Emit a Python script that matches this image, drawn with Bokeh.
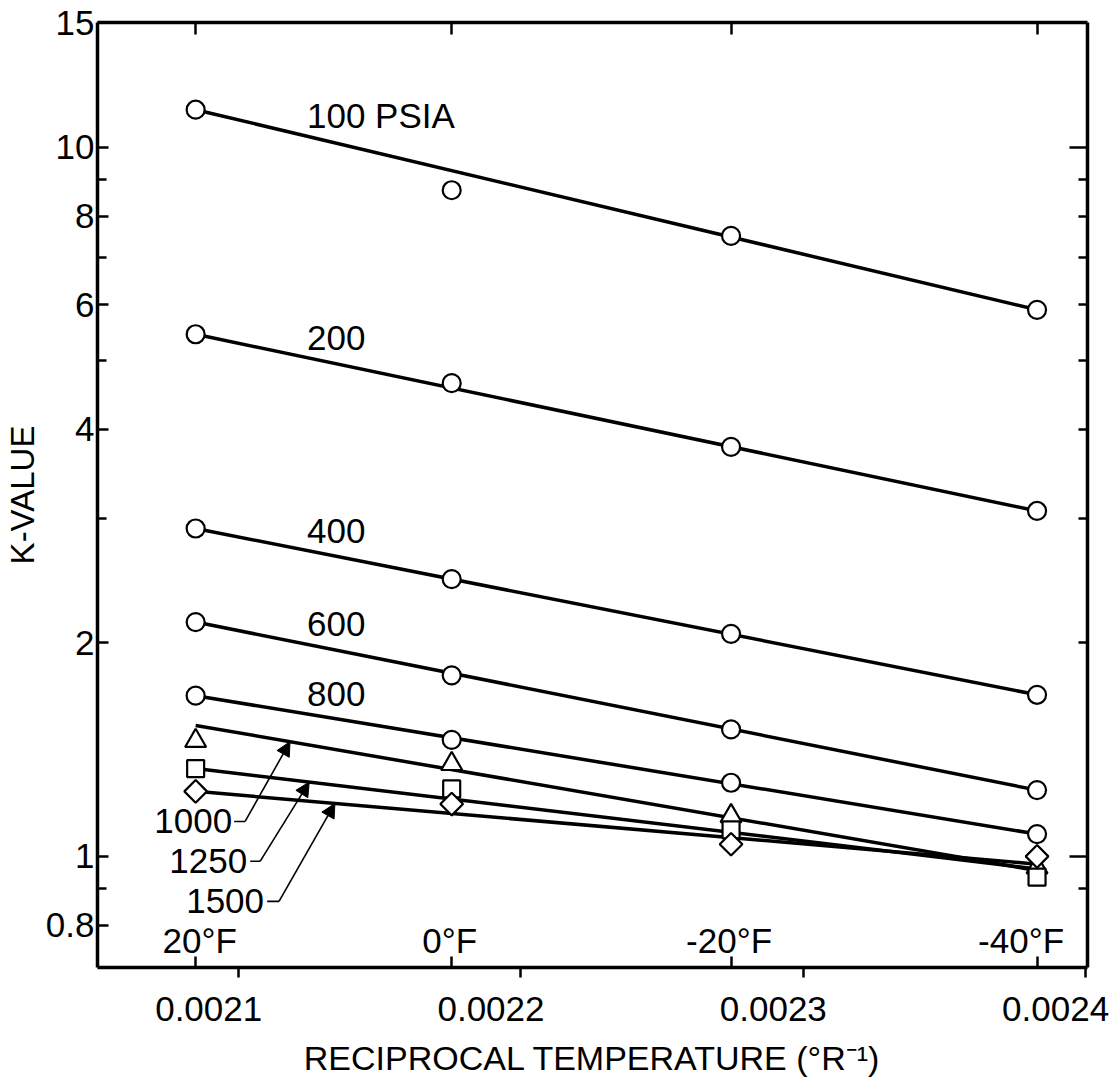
import numpy as np
from bokeh.plotting import figure
from bokeh.models import (Range1d, LinearAxis, LogAxis, FixedTicker, ColumnDataSource,
                          LabelSet, Arrow, NormalHead, CustomJSTickFormatter)
from bokeh.core.properties import value
from bokeh.embed import file_html
from bokeh.resources import INLINE

# ---------------- data ----------------
temps_F = [20, 0, -20, -40]
temp_labels = ["20°F", "0°F", "-20°F", "-40°F"]
x_ticks = [0.0021, 0.0022, 0.0023, 0.0024]
x_tick_labels = ["0.0021", "0.0022", "0.0023", "0.0024"]
y_ticks = [0.8, 1, 2, 4, 6, 8, 10, 15]
y_minor = [0.9, 3, 5, 7, 9]
y_right_major = [1, 10]
y_right_minor = [0.9, 2, 3, 4, 5, 6, 7, 8, 9]

pressures = ["100", "200", "400", "600", "800", "1000", "1250", "1500"]
# measured K-values at 20, 0, -20, -40 F
k_100 = [11.3, 8.7, 7.5, 5.9]
k_200 = [5.45, 4.65, 3.78, 3.07]
k_400 = [2.90, 2.46, 2.06, 1.69]
k_600 = [2.14, 1.80, 1.51, 1.24]
k_800 = [1.685, 1.46, 1.27, 1.075]
k_1000 = [1.455, 1.35, 1.14, 0.965]
k_1250 = [1.33, 1.245, 1.09, 0.935]
k_1500 = [1.235, 1.185, 1.04, 1.00]
# fitted straight lines: K at 20 F and at -40 F
line_100 = [11.3, 5.9]
line_200 = [5.45, 3.07]
line_400 = [2.90, 1.69]
line_600 = [2.14, 1.24]
line_800 = [1.685, 1.075]
line_1000 = [1.53, 0.955]
line_1250 = [1.33, 0.96]
line_1500 = [1.235, 0.975]

label_texts = ["100 PSIA", "200", "400", "600", "800"]
callout_texts = ["1000", "1250", "1500"]

# annotation placement (data units)
label_x = 0.0021242
callout_x = [0.0020977, 0.0021030, 0.0021090]
callout_k = [1.12, 0.984, 0.864]
dash_x0 = [0.0020984, 0.0021041, 0.0021101]
dash_x1 = [0.0021023, 0.0021076, 0.0021143]
tip_x = [0.0021182, 0.0021250, 0.0021341]

# ---------------- derived ----------------
x_pts = [1.0 / (t + 459.67) for t in temps_F]
X0, X1 = x_pts[0], x_pts[-1]

series = [
    (k_100, line_100, "circle"),
    (k_200, line_200, "circle"),
    (k_400, line_400, "circle"),
    (k_600, line_600, "circle"),
    (k_800, line_800, "circle"),
    (k_1000, line_1000, "triangle"),
    (k_1250, line_1250, "square"),
    (k_1500, line_1500, "diamond"),
]


def line_at(xq, ends):
    f = (xq - X0) / (X1 - X0)
    a, b = np.log10(ends[0]), np.log10(ends[1])
    return float(10 ** (a + f * (b - a)))


FONT = "Liberation Sans"
BLANK = CustomJSTickFormatter(code="return ''")

XS, XE = 0.00205, 0.0024007
W, H = 1109, 1080
ML, MR, MT, MB = 95, 22, 22, 113
# tick labels in the reference sit left of their ticks
shift = 30 * (XE - XS) / (W - ML - MR)

p = figure(width=W, height=H,
           x_range=Range1d(XS, XE), y_range=Range1d(0.697, 15),
           y_axis_type="log", output_backend="svg", toolbar_location=None,
           min_border_left=ML, min_border_right=MR, min_border_top=MT,
           min_border_bottom=MB)
p.extra_x_ranges = {"xlab": Range1d(XS + shift, XE + shift)}
p.grid.visible = False
p.outline_line_color = None
p.background_fill_color = "white"
p.border_fill_color = "white"

AX_W = 3.5
TK_W = 2.5

# left axis
ya = p.yaxis[0]
ya.ticker = FixedTicker(ticks=y_ticks, minor_ticks=y_minor)
ya.formatter = CustomJSTickFormatter(code="return tick.toString()")
ya.axis_line_width = AX_W
ya.major_tick_in = 11
ya.major_tick_out = 0
ya.minor_tick_in = 9
ya.minor_tick_out = 0
ya.major_tick_line_width = TK_W
ya.minor_tick_line_width = TK_W
ya.major_label_text_font = FONT
ya.major_label_text_font_size = "35px"
ya.major_label_text_color = "black"
ya.major_label_standoff = 3
ya.axis_label = "K-VALUE"
ya.axis_label_text_font = FONT
ya.axis_label_text_font_size = "33px"
ya.axis_label_text_font_style = "normal"
ya.axis_label_text_color = "black"
ya.axis_label_standoff = 2

# bottom axis: line and ticks
xa = p.xaxis[0]
xa.ticker = FixedTicker(ticks=x_ticks, minor_ticks=x_pts)
xa.formatter = BLANK
xa.axis_line_width = AX_W
xa.major_tick_in = 0
xa.major_tick_out = 10
xa.minor_tick_in = 11
xa.minor_tick_out = 0
xa.major_tick_line_width = TK_W
xa.minor_tick_line_width = TK_W
xa.major_label_standoff = 0
xa.major_label_text_font_size = "1px"

# bottom axis: tick labels and title
la = LinearAxis(x_range_name="xlab",
                ticker=FixedTicker(ticks=x_ticks, minor_ticks=[]),
                major_label_overrides=dict(zip(x_ticks, x_tick_labels)),
                formatter=CustomJSTickFormatter(code="return tick.toFixed(4)"))
la.axis_line_color = None
la.major_tick_line_color = None
la.minor_tick_line_color = None
la.major_tick_in = 0
la.major_tick_out = 0
la.major_label_standoff = 19
la.major_label_text_font = FONT
la.major_label_text_font_size = "35px"
la.major_label_text_color = "black"
la.axis_label = "RECIPROCAL TEMPERATURE (°R⁻¹)"
la.axis_label_text_font = FONT
la.axis_label_text_font_size = "34px"
la.axis_label_text_font_style = "normal"
la.axis_label_text_color = "black"
la.axis_label_standoff = 15
p.add_layout(la, "below")

# top axis
ta = LinearAxis(ticker=FixedTicker(ticks=x_pts, minor_ticks=[]), formatter=BLANK)
ta.axis_line_width = AX_W
ta.major_tick_in = 12
ta.major_tick_out = 0
ta.major_tick_line_width = TK_W
ta.major_label_standoff = 0
ta.major_label_text_font_size = "1px"
p.add_layout(ta, "above")

# right axis
ra = LogAxis(ticker=FixedTicker(ticks=y_right_major, minor_ticks=y_right_minor),
             formatter=BLANK)
ra.axis_line_width = AX_W
ra.major_tick_in = 18
ra.major_tick_out = 0
ra.minor_tick_in = 9
ra.minor_tick_out = 0
ra.major_tick_line_width = TK_W
ra.minor_tick_line_width = TK_W
ra.major_label_standoff = 0
ra.major_label_text_font_size = "1px"
p.add_layout(ra, "right")

# fitted lines
for k, ends, m in series:
    p.line(x=[X0, X1], y=ends, line_width=3.5, line_color="black")

# data points
for k, ends, m in series:
    src = ColumnDataSource(dict(x=x_pts, y=k))
    if m == "circle":
        p.scatter("x", "y", source=src, marker="circle", size=18,
                  fill_color="white", line_color="black", line_width=2.2)
    elif m == "triangle":
        p.scatter("x", "y", source=src, marker="triangle", size=21,
                  fill_color="white", line_color="black", line_width=2.2)
    elif m == "square":
        p.scatter("x", "y", source=src, marker="square", size=17,
                  fill_color="white", line_color="black", line_width=2.2)
    else:
        p.scatter("x", "y", source=src, marker="square", size=16, angle=np.pi / 4,
                  fill_color="white", line_color="black", line_width=2.2)

# pressure labels above lines
lab_src = ColumnDataSource(dict(
    x=[label_x] * len(label_texts),
    y=[line_at(label_x, s[1]) for s in series[:len(label_texts)]],
    text=label_texts))
p.add_layout(LabelSet(x="x", y="y", text="text", source=lab_src,
                      text_font=value(FONT), text_font_size=value("35px"),
                      text_align="left", text_baseline="alphabetic",
                      y_offset=8, text_color="black"))

# callouts for 1000, 1250, 1500
co_src = ColumnDataSource(dict(x=callout_x, y=callout_k, text=callout_texts))
p.add_layout(LabelSet(x="x", y="y", text="text", source=co_src,
                      text_font=value(FONT), text_font_size=value("35px"),
                      text_align="right", text_baseline="middle",
                      text_color="black"))
p.segment(x0=dash_x0, y0=callout_k, x1=dash_x1, y1=callout_k,
          line_width=1.6, line_color="black")
for i, ends in enumerate([line_1000, line_1250, line_1500]):
    p.add_layout(Arrow(end=NormalHead(size=14, fill_color="black",
                                      line_color="black", line_width=1),
                       x_start=dash_x1[i], y_start=callout_k[i],
                       x_end=tip_x[i], y_end=line_at(tip_x[i], ends),
                       line_width=1.6, line_color="black"))

# temperature labels inside bottom of frame
t_src = ColumnDataSource(dict(x=x_pts, y=[p.y_range.start] * 4, text=temp_labels,
                              dx=[4, -2, -2, -16]))
p.add_layout(LabelSet(x="x", y="y", text="text", source=t_src, x_offset="dx",
                      y_offset=15, text_font=value(FONT), text_font_size=value("35px"),
                      text_align="center", text_baseline="alphabetic",
                      text_color="black"))

open("out.html", "w").write(file_html(p, INLINE))
